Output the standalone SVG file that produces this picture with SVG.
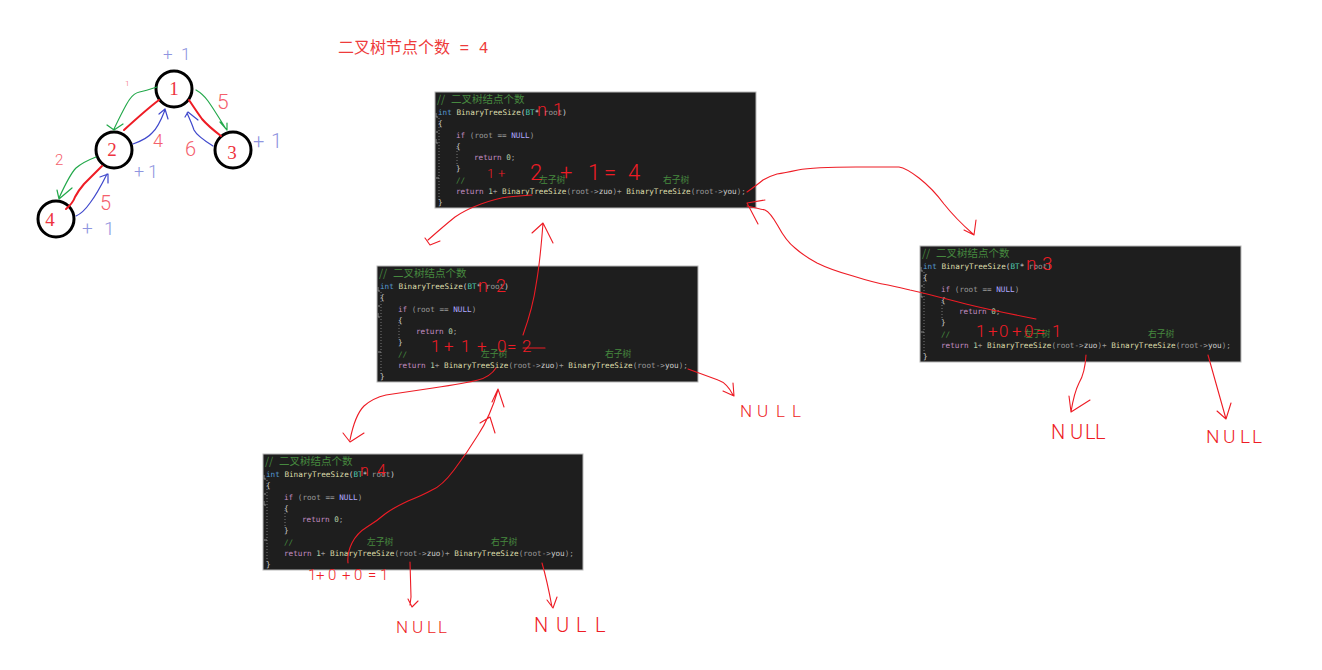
<svg xmlns="http://www.w3.org/2000/svg" width="1322" height="670" viewBox="0 0 1322 670">
<style>
.bg{fill:#1e1e1e;stroke:#b8b8b8;stroke-width:1}
.code{font-family:"DejaVu Sans Mono","Liberation Mono",monospace;font-size:7.65px;fill:#9a9a9a}
.cjk{font-family:"Noto Sans CJK SC",sans-serif;fill:#46893f}
.h1{font-size:10.5px}.h2{font-size:8.8px}
.c{fill:#46893f}.k{fill:#c58fc4}.b{fill:#569cd6}.t{fill:#4ec9b0}.f{fill:#dcdcaa}.m{fill:#b0a8ff}.n{fill:#b5cea8}.w{fill:#cfcfcf}
.guide{stroke:#777;stroke-width:1;stroke-dasharray:1 2;fill:none}
.r{fill:none;stroke:#ee1c25;stroke-width:1.1;stroke-linejoin:round;stroke-linecap:round}
.rt{fill:none;stroke:#ee1c25;stroke-width:2;stroke-linejoin:round;stroke-linecap:round}
.g{fill:none;stroke:#22a84a;stroke-width:1.2;stroke-linejoin:round;stroke-linecap:round}
.bl{fill:none;stroke:#3f48cc;stroke-width:1.2;stroke-linejoin:round;stroke-linecap:round}
.node{fill:#fff;stroke:#000;stroke-width:3}
.nl{font-family:"Liberation Serif",serif;font-size:19px;fill:#ee3340;text-anchor:middle}
.hand{font-family:"Roboto","Liberation Sans",sans-serif;fill:#ee1c25;font-weight:300}
.pink{font-family:"Roboto","Liberation Sans",sans-serif;font-weight:300;fill:#f4606c}
.blu{font-family:"Roboto","Liberation Sans",sans-serif;font-weight:300;fill:#8f95e0}
.title{font-family:"Liberation Mono","Noto Sans CJK SC",monospace;font-size:16px;fill:#ee3b3b}
</style>
<defs>
<g id="guides">
<path class="guide" d="M4 26V108M22 56V74"/>
<path d="M1 40h2M1 47v4h2M1 21v4h2M1 86h3" fill="none" stroke="#888" stroke-width="1"/>
</g>
</defs>

<text id="title" class="title" x="338" y="53"><tspan font-family="Noto Sans CJK SC,sans-serif">二叉树节点个数</tspan> = 4</text>

<g id="node-1"><circle class="node" cx="174" cy="89" r="18"/><text class="nl" x="174" y="95">1</text></g>
<g id="node-2"><circle class="node" cx="114" cy="150" r="18"/><text class="nl" x="112" y="156">2</text></g>
<g id="node-3"><circle class="node" cx="233" cy="150" r="18"/><text class="nl" x="232" y="159">3</text></g>
<g id="node-4"><circle class="node" cx="56" cy="219" r="18"/><text class="nl" x="50" y="226">4</text></g>

<g id="code-1" transform="translate(435 92)">
<rect class="bg" x="0" y="0" width="321" height="116"/><use href="#guides"/>
<text class="cjk h1" y="11"><tspan x="2">//</tspan><tspan x="16">二叉树结点个数</tspan></text>
<text class="code" x="3" y="22.5"><tspan class="b">int</tspan> <tspan class="f">BinaryTreeSize</tspan><tspan class="w">(</tspan><tspan class="t">BT</tspan><tspan class="w">*</tspan> root<tspan class="w">)</tspan></text>
<text class="code w" x="3" y="34">{</text>
<text class="code" x="21" y="45.5"><tspan class="k">if</tspan> (root == <tspan class="m">NULL</tspan>)</text>
<text class="code w" x="21" y="56.5">{</text>
<text class="code" x="39" y="68"><tspan class="k">return</tspan> <tspan class="n">0</tspan>;</text>
<text class="code w" x="21" y="79">}</text>
<text class="code c" x="21" y="90.5">//</text>
<text class="cjk h2" x="104" y="90.5">左子树</text><text class="cjk h2" x="228" y="90.5">右子树</text>
<text class="code" x="21" y="101.5"><tspan class="k">return</tspan> <tspan class="n">1</tspan>+ <tspan class="f">BinaryTreeSize</tspan>(root-&gt;<tspan class="w">zuo</tspan>)+ <tspan class="f">BinaryTreeSize</tspan>(root-&gt;<tspan class="w">you</tspan>);</text>
<text class="code w" x="3" y="112.5">}</text>
</g>

<g id="code-2" transform="translate(377 266)">
<rect class="bg" x="0" y="0" width="321" height="116"/><use href="#guides"/>
<text class="cjk h1" y="11"><tspan x="2">//</tspan><tspan x="16">二叉树结点个数</tspan></text>
<text class="code" x="3" y="22.5"><tspan class="b">int</tspan> <tspan class="f">BinaryTreeSize</tspan><tspan class="w">(</tspan><tspan class="t">BT</tspan><tspan class="w">*</tspan> root<tspan class="w">)</tspan></text>
<text class="code w" x="3" y="34">{</text>
<text class="code" x="21" y="45.5"><tspan class="k">if</tspan> (root == <tspan class="m">NULL</tspan>)</text>
<text class="code w" x="21" y="56.5">{</text>
<text class="code" x="39" y="68"><tspan class="k">return</tspan> <tspan class="n">0</tspan>;</text>
<text class="code w" x="21" y="79">}</text>
<text class="code c" x="21" y="90.5">//</text>
<text class="cjk h2" x="104" y="90.5">左子树</text><text class="cjk h2" x="228" y="90.5">右子树</text>
<text class="code" x="21" y="101.5"><tspan class="k">return</tspan> <tspan class="n">1</tspan>+ <tspan class="f">BinaryTreeSize</tspan>(root-&gt;<tspan class="w">zuo</tspan>)+ <tspan class="f">BinaryTreeSize</tspan>(root-&gt;<tspan class="w">you</tspan>);</text>
<text class="code w" x="3" y="112.5">}</text>
</g>

<g id="code-3" transform="translate(263 454)">
<rect class="bg" x="0" y="0" width="320" height="116"/><use href="#guides"/>
<text class="cjk h1" y="11"><tspan x="2">//</tspan><tspan x="16">二叉树结点个数</tspan></text>
<text class="code" x="3" y="22.5"><tspan class="b">int</tspan> <tspan class="f">BinaryTreeSize</tspan><tspan class="w">(</tspan><tspan class="t">BT</tspan><tspan class="w">*</tspan> root<tspan class="w">)</tspan></text>
<text class="code w" x="3" y="34">{</text>
<text class="code" x="21" y="45.5"><tspan class="k">if</tspan> (root == <tspan class="m">NULL</tspan>)</text>
<text class="code w" x="21" y="56.5">{</text>
<text class="code" x="39" y="68"><tspan class="k">return</tspan> <tspan class="n">0</tspan>;</text>
<text class="code w" x="21" y="79">}</text>
<text class="code c" x="21" y="90.5">//</text>
<text class="cjk h2" x="104" y="90.5">左子树</text><text class="cjk h2" x="228" y="90.5">右子树</text>
<text class="code" x="21" y="101.5"><tspan class="k">return</tspan> <tspan class="n">1</tspan>+ <tspan class="f">BinaryTreeSize</tspan>(root-&gt;<tspan class="w">zuo</tspan>)+ <tspan class="f">BinaryTreeSize</tspan>(root-&gt;<tspan class="w">you</tspan>);</text>
<text class="code w" x="3" y="112.5">}</text>
</g>

<g id="code-4" transform="translate(920 246)">
<rect class="bg" x="0" y="0" width="321" height="116"/><use href="#guides"/>
<text class="cjk h1" y="11"><tspan x="2">//</tspan><tspan x="16">二叉树结点个数</tspan></text>
<text class="code" x="3" y="22.5"><tspan class="b">int</tspan> <tspan class="f">BinaryTreeSize</tspan><tspan class="w">(</tspan><tspan class="t">BT</tspan><tspan class="w">*</tspan> root<tspan class="w">)</tspan></text>
<text class="code w" x="3" y="34">{</text>
<text class="code" x="21" y="45.5"><tspan class="k">if</tspan> (root == <tspan class="m">NULL</tspan>)</text>
<text class="code w" x="21" y="56.5">{</text>
<text class="code" x="39" y="68"><tspan class="k">return</tspan> <tspan class="n">0</tspan>;</text>
<text class="code w" x="21" y="79">}</text>
<text class="code c" x="21" y="90.5">//</text>
<text class="cjk h2" x="104" y="90.5">左子树</text><text class="cjk h2" x="228" y="90.5">右子树</text>
<text class="code" x="21" y="101.5"><tspan class="k">return</tspan> <tspan class="n">1</tspan>+ <tspan class="f">BinaryTreeSize</tspan>(root-&gt;<tspan class="w">zuo</tspan>)+ <tspan class="f">BinaryTreeSize</tspan>(root-&gt;<tspan class="w">you</tspan>);</text>
<text class="code w" x="3" y="112.5">}</text>
</g>

<g id="connectors">
<path class="rt" d="M159 100Q147 109 124 130"/>
<path class="rt" d="M189 100Q197 112 202 119Q208 126 221 136"/>
<path class="rt" d="M102 166Q90 178 84 184Q78 191 75 197Q73 203 66 209"/>
<path class="g" d="M157 87Q145 91 139.5 92Q134 93 129.5 99.5Q125 106 114 129M107 125L114 130L123 124"/>
<path class="g" d="M196 90Q203 94 208 101Q213 108 226 129M220 122L227 130L227 123"/>
<path class="g" d="M96 157Q83 162 76 168Q70 174 59 198M57 190L59 199L72 188"/>
<path class="bl" d="M133 144Q147 139 152 133Q158 128 165 110M159 114L165 109L168 119"/>
<path class="bl" d="M213 146Q197 136 194 130Q192 124 187 113M185 117L188 112L198 120"/>
<path class="bl" d="M76 216Q83 213 90 203Q97 194 107 174M100 177L108 174L108 183"/>

<path class="r" d="M532 195Q518 196 508 197Q498 198 481 204Q465 210 455 217Q445 225 428 240M425 238L430 245L440 241"/>
<path class="r" d="M523 335Q533 307 536 285Q540 263 543 223M532 233L543 223L553 243"/>
<path class="r" d="M747 192Q757 185 763 180Q770 176 777 174Q784 173 798 170Q813 167 856 167L899 167Q906 168 919 178Q933 189 944 204Q956 219 973 234M964 230L974 235L976 220"/>
<path class="r" d="M1036 319Q990 310 966 304Q943 298 931 295Q919 292 910 290Q902 288 888 285Q875 283 853 276Q831 270 817 263Q804 256 795 248Q786 241 778 226Q770 212 765 210Q760 209 747 206M765 200L747 203L758 224"/>
<path class="r" d="M496 368Q490 377 478 380Q467 383 433 388Q400 393 386 395Q373 398 364 406Q355 415 350 440M343 433L350 442L364 433"/>
<path class="r" d="M688 369Q710 377 718 380Q727 383 733 395M723 391L734 396L733 383"/>
<path class="r" d="M348 563Q347 553 352 543Q357 533 367 527Q377 521 385 514Q393 508 408 501Q423 495 432 490Q442 486 454 470Q467 453 478 435Q490 417 498 390M480 423L490 417L495 433M492 402L498 389L504 407"/>
<path class="r" d="M410 562L411 597L410 605M408 599L412 607L418 601"/>
<path class="r" d="M542 563Q547 580 552 607M547 600L553 608L557 597"/>
<path class="r" d="M1086 355Q1085 373 1079 383Q1074 393 1071 412M1069 396L1071 412L1090 400"/>
<path class="r" d="M1208 355Q1215 380 1226 419M1217 411L1226 419L1231 403"/>
<path class="r" d="M523 348H545"/>
</g>

<g id="notes">
<text class="pink" x="125" y="86" font-size="8">1</text>
<text class="pink" x="217" y="109" font-size="21">5</text>
<text class="pink" x="55" y="165" font-size="15">2</text>
<text class="pink" x="153" y="147" font-size="18">4</text>
<text class="pink" x="185" y="156" font-size="20">6</text>
<text class="pink" x="100" y="210" font-size="20">5</text>
<text class="blu" x="163 181" y="60" font-size="17">+1</text>
<text class="blu" x="253 271" y="148" font-size="20">+1</text>
<text class="blu" x="134 148" y="178" font-size="18">+1</text>
<text class="blu" x="82 104" y="235" font-size="19">+1</text>

<text class="hand" font-size="18" x="537 553" y="116">n1</text>
<text class="hand" font-size="13" x="487 498" y="178">1+</text>
<text class="hand" font-size="22" x="530 560 588 604 628" y="180">2+1=4</text>
<text class="hand" font-size="18" x="478 496" y="292">n2</text>
<text class="hand" font-size="17" x="431 444 461 477 497 507 522" y="352">1+1+0=2</text>
<text class="hand" font-size="16" x="360 377" y="476">n4</text>
<text class="hand" font-size="15" x="308 316 328 342 354 368 380" y="580">1+0+0=1</text>
<text class="hand" font-size="19" x="1026 1042" y="270">n3</text>
<text class="hand" font-size="17" x="976 988 999 1012 1024 1036 1052" y="337">1+0+0=1</text>
<text class="hand" font-size="17" x="740 757 776 792" y="417">NULL</text>
<text class="hand" font-size="17" x="396 412 427 438" y="633">NULL</text>
<text class="hand" font-size="20" x="534 556 576 595" y="632">NULL</text>
<text class="hand" font-size="20" x="1051 1070 1085 1095" y="439">NULL</text>
<text class="hand" font-size="19" x="1206 1223 1240 1252" y="443">NULL</text>
</g>
</svg>
